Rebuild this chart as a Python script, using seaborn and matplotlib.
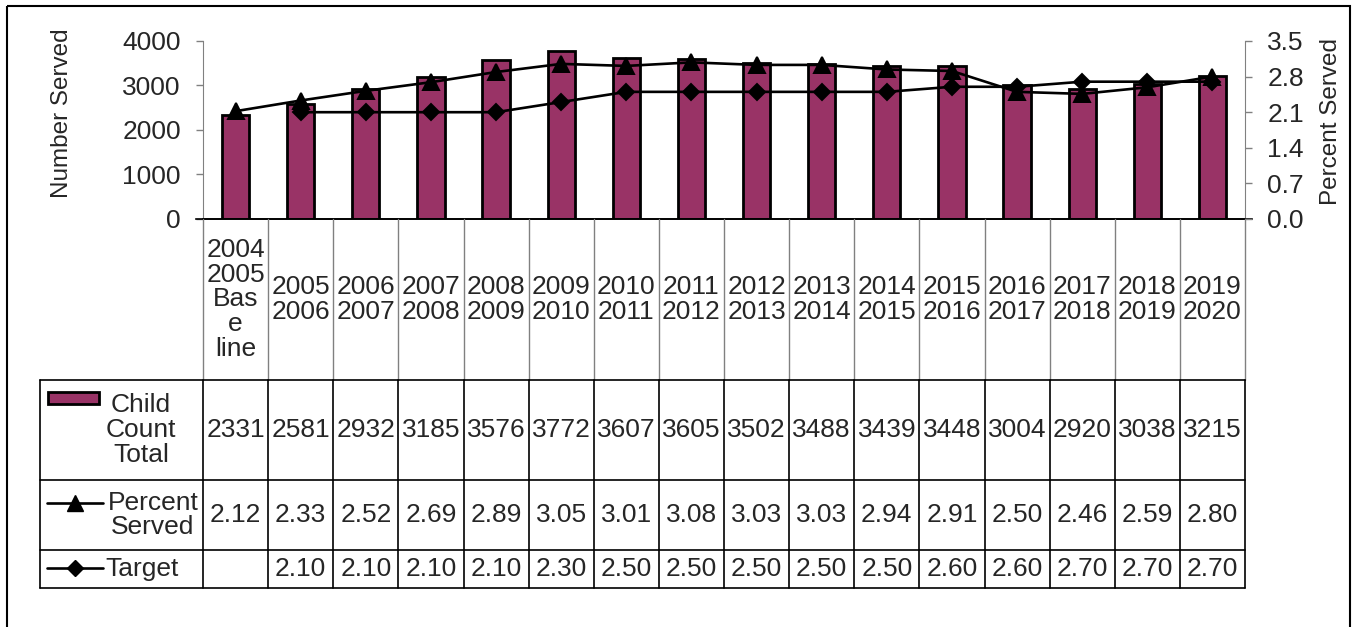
import numpy as np
import pandas as pd
import matplotlib
matplotlib.use("Agg")
import matplotlib.pyplot as plt
from matplotlib.patches import Rectangle
import seaborn as sns

sns.set_style("white")
plt.rcParams["font.family"] = ["Liberation Sans", "DejaVu Sans"]

YEARS = ["2004\n2005\nBas\ne\nline", "2005\n2006", "2006\n2007", "2007\n2008",
         "2008\n2009", "2009\n2010", "2010\n2011", "2011\n2012", "2012\n2013",
         "2013\n2014", "2014\n2015", "2015\n2016", "2016\n2017", "2017\n2018",
         "2018\n2019", "2019\n2020"]
CHILD_COUNT = [2331, 2581, 2932, 3185, 3576, 3772, 3607, 3605, 3502, 3488,
               3439, 3448, 3004, 2920, 3038, 3215]
PERCENT_SERVED = [2.12, 2.33, 2.52, 2.69, 2.89, 3.05, 3.01, 3.08, 3.03, 3.03,
                  2.94, 2.91, 2.50, 2.46, 2.59, 2.80]
TARGET = [np.nan, 2.10, 2.10, 2.10, 2.10, 2.30, 2.50, 2.50, 2.50, 2.50,
          2.50, 2.60, 2.60, 2.70, 2.70, 2.70]
LEFT_TICKS = [0, 1000, 2000, 3000, 4000]
RIGHT_TICKS = [0.0, 0.7, 1.4, 2.1, 2.8, 3.5]

BAR_COLOR = "#993366"
GRAY = "#808080"
FS = 19
LW = 1.9

W, H = 1353, 627
X0, X1 = 203, 1245
Y_TOP, Y_BOT = 41, 219
n = len(YEARS)
col_w = (X1 - X0) / n

df = pd.DataFrame({"year": YEARS, "count": CHILD_COUNT,
                   "pct": PERCENT_SERVED, "target": TARGET})

fig = plt.figure(figsize=(W / 100, H / 100), dpi=100)
ax = fig.add_axes([X0 / W, 1 - Y_BOT / H, (X1 - X0) / W, (Y_BOT - Y_TOP) / H])

sns.barplot(data=df, x="year", y="count", order=YEARS, color=BAR_COLOR,
            edgecolor="black", linewidth=2, width=0.42, saturation=1, ax=ax)
ax.set_ylim(0, 4000)
ax.set_yticks(LEFT_TICKS)
ax.set_xlim(-0.5, n - 0.5)
ax.set_xticks([])
ax.set_xlabel("")
ax.set_ylabel("Number Served", fontsize=17.5)
ax.yaxis.set_label_coords((73 - X0) / (X1 - X0), (Y_BOT - 113) / (Y_BOT - Y_TOP))
ax.tick_params(axis="y", labelsize=FS, length=5, width=1, color=GRAY, pad=11,
               left=True, direction="out")

ax2 = ax.twinx()
sns.pointplot(data=df, x="year", y="pct", order=YEARS, color="black",
              markers="^", linestyles="-", errorbar=None, markersize=12,
              linewidth=LW, ax=ax2)
sns.pointplot(data=df, x="year", y="target", order=YEARS, color="black",
              markers="D", linestyles="-", errorbar=None, markersize=8.5,
              linewidth=LW, ax=ax2)
ax2.set_ylim(0, 3.5)
ax2.set_yticks(RIGHT_TICKS)
ax2.set_yticklabels([f"{t:.1f}" for t in RIGHT_TICKS])
ax2.set_xlim(-0.5, n - 0.5)
ax2.set_xticks([])
ax2.set_xlabel("")
ax2.set_ylabel("Percent Served", fontsize=17.5, rotation=90)
ax2.yaxis.set_label_coords((1320 - X0) / (X1 - X0), (Y_BOT - 122) / (Y_BOT - Y_TOP))
ax2.tick_params(axis="y", labelsize=FS, length=5, width=1, color=GRAY, pad=11,
                right=True, direction="out")

for a in (ax, ax2):
    a.spines["top"].set_visible(False)
    a.spines["left"].set_color(GRAY)
    a.spines["right"].set_color(GRAY)
    a.spines["bottom"].set_color("black")
    a.spines["bottom"].set_linewidth(1.2)
ax2.spines["left"].set_visible(False)
ax.spines["right"].set_visible(False)
ax.spines["bottom"].set_bounds(-0.5 - 7 / col_w, n - 0.5 + 7 / col_w)

# data table underneath, drawn in pixel coordinates
tab = fig.add_axes([0, 0, 1, 1])
tab.set_xlim(0, W)
tab.set_ylim(H, 0)
tab.axis("off")
tab.patch.set_alpha(0)

tab.add_patch(Rectangle((7, 6), 1343, 700, fill=False, edgecolor="black",
                        linewidth=1.5))

R0, R1, R2, R3, R4 = Y_BOT, 380, 480, 550, 588
LX = 40
edges = [X0 + k * col_w for k in range(n + 1)]
for x in edges:
    tab.plot([x, x], [R0, R1], color=GRAY, linewidth=1)
    tab.plot([x, x], [R1, R4], color="black", linewidth=1.2)
tab.plot([LX, LX], [R1, R4], color="black", linewidth=1.2)
for y in (R1, R2, R3, R4):
    tab.plot([LX, X1], [y, y], color="black", linewidth=1.2)

centers = [X0 + (i + 0.5) * col_w for i in range(n)]
for i in range(n):
    cx = centers[i]
    tab.text(cx, (R0 + R1) / 2, YEARS[i], ha="center", va="center",
             fontsize=FS, linespacing=1.05)
    tab.text(cx, (R1 + R2) / 2, f"{CHILD_COUNT[i]}", ha="center", va="center",
             fontsize=FS)
    tab.text(cx, (R2 + R3) / 2, f"{PERCENT_SERVED[i]:.2f}", ha="center",
             va="center", fontsize=FS)
    if not np.isnan(TARGET[i]):
        tab.text(cx, (R3 + R4) / 2, f"{TARGET[i]:.2f}", ha="center",
                 va="center", fontsize=FS)

# legend keys
tab.add_patch(Rectangle((48, 392), 51, 12, facecolor=BAR_COLOR,
                        edgecolor="black", linewidth=2))
tab.text(141, (R1 + R2) / 2, "Child\nCount\nTotal", ha="center", va="center",
         fontsize=FS, multialignment="center", linespacing=1.05)
tab.plot([47, 103], [503, 503], color="black", linewidth=LW)
tab.plot([75], [503], marker="^", color="black", markersize=12)
tab.text(153, (R2 + R3) / 2, "Percent\nServed", ha="center", va="center",
         fontsize=FS, multialignment="center", linespacing=1.0)
tab.plot([47, 103], [568, 568], color="black", linewidth=LW)
tab.plot([75], [568], marker="D", color="black", markersize=8.5)
tab.text(105, (R3 + R4) / 2, "Target", ha="left", va="center", fontsize=FS)

fig.savefig("out.png", dpi=100)
